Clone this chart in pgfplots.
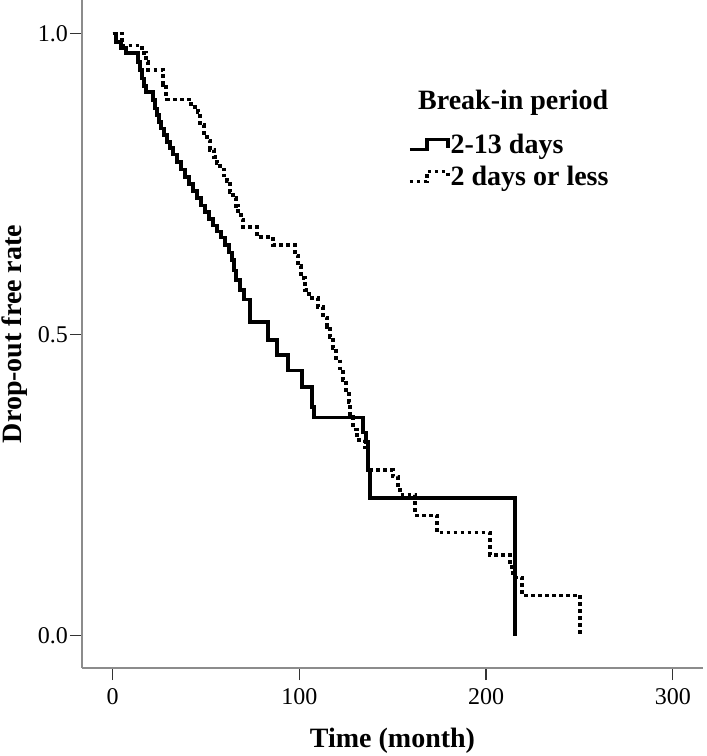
\documentclass[border=0pt]{standalone}
\usepackage{fontspec}
\setmainfont{Liberation Serif}
\usepackage{pgfplots}
\pgfplotsset{compat=1.18}

\newcommand{\lblfont}{\fontsize{28}{31}\selectfont\bfseries}
\newcommand{\tckfont}{\fontsize{24}{26}\selectfont}
\pgfplotsset{steplegend/.style={legend image code/.code={%
  \draw[##1] (0pt,-5pt) -- (17pt,-5pt) -- (17pt,5pt) -- (38pt,5pt) -- (38pt,-3pt);}}}

\begin{document}
\begin{tikzpicture}
\begin{axis}[
  name=km,
  scale only axis,
  width=621pt, height=668pt,
  xmin=-16.44, xmax=316.2,
  ymin=-0.0537, ymax=1.056,
  axis lines*=left,
  axis line style={black!45, line width=1.3pt},
  xtick={0,100,200,300},
  ytick={0,0.5,1},
  yticklabels={0.0,0.5,1.0},
  tick align=outside,
  major tick length=12pt,
  tick style={black!80, line width=1.2pt},
  /pgf/number format/assume math mode=true,
  tick label style={font=\tckfont},
  xticklabel style={inner sep=0pt, yshift=-8pt},
  yticklabel style={inner sep=0pt, xshift=-2pt},
  xlabel={Time (month)},
  ylabel={Drop-out free rate},
  label style={font=\lblfont},
  xlabel style={at={(axis description cs:0.5,-0.0898)}, anchor=north, inner sep=0pt},
  ylabel style={at={(axis description cs:-0.1288,0.5)}, anchor=north, inner sep=0pt},
  legend cell align={left},
  legend style={at={(axis description cs:0.525,0.801)}, anchor=north west,
    draw=none, fill=none, inner sep=0pt, font=\lblfont,
    row sep=9pt,
    nodes={inner sep=1pt}},
]
% 2-13 days
\addplot[const plot, black, line width=3.4pt, steplegend]
coordinates {
(0,1.0) (1.8,0.986) (4.5,0.976) (7.1,0.968) (13.6,0.953) (14.6,0.940) (15.7,0.926)
(16.8,0.913) (17.8,0.903) (21.6,0.890) (22.7,0.876) (23.7,0.865) (24.8,0.853)
(25.9,0.843) (27.5,0.832) (29.1,0.820) (30.7,0.810) (32.3,0.799) (34.4,0.787)
(36.6,0.774) (38.7,0.762) (40.9,0.750) (43.0,0.739) (45.2,0.727) (47.3,0.715)
(49.4,0.704) (51.6,0.692) (53.7,0.681) (55.9,0.671) (58.0,0.661) (60.2,0.649)
(62.3,0.637) (63.9,0.624) (65.0,0.607) (66.0,0.591) (68.2,0.574) (70.3,0.558)
(73.5,0.521) (83.2,0.491) (88.0,0.466) (93.9,0.441) (101.4,0.413) (106.7,0.380)
(107.8,0.362) (134.1,0.338) (135.7,0.322) (136.7,0.275) (137.8,0.229) (215.5,0.0)
};
\addlegendentry{2-13 days}
% 2 days or less
\addplot[const plot, black, line width=3.4pt, dash pattern=on 3.5pt off 3.5pt, steplegend]
coordinates {
(0,1.0) (5.0,0.980) (15.7,0.968) (17.8,0.953) (18.9,0.940) (26.9,0.915) (28.5,0.895)
(29.1,0.891) (41.9,0.878) (45.7,0.870) (46.8,0.848) (48.9,0.835) (50.5,0.823)
(52.1,0.807) (54.3,0.795) (55.9,0.785) (57.5,0.774) (59.6,0.764) (61.2,0.754)
(62.8,0.737) (64.4,0.727) (66.0,0.714) (67.1,0.702) (68.7,0.691) (69.8,0.679)
(77.3,0.662) (85.9,0.649) (97.7,0.632) (99.3,0.614) (100.9,0.594) (103.0,0.574)
(105.1,0.561) (110.0,0.546) (112.6,0.529) (114.8,0.513) (116.4,0.496) (118.0,0.478)
(119.6,0.461) (121.7,0.441) (123.4,0.425) (125.0,0.408) (126.6,0.387) (127.1,0.363)
(128.7,0.342) (130.9,0.325) (135.1,0.313) (136.7,0.275) (150.1,0.264) (152.8,0.247)
(153.9,0.234) (161.9,0.200) (173.7,0.171) (202.1,0.134) (212.8,0.114) (214.4,0.097)
(219.2,0.067) (250.3,0.0)
};
\addlegendentry{2 days or less}
\node[font=\lblfont, anchor=north west, inner sep=0pt] at (axis description cs:0.541,0.865) {Break-in period};
\end{axis}
\pgfresetboundingbox
\path[use as bounding box] ([xshift=-82pt,yshift=-88pt]km.south west) rectangle ([xshift=3pt]km.north east);
\end{tikzpicture}
\end{document}
